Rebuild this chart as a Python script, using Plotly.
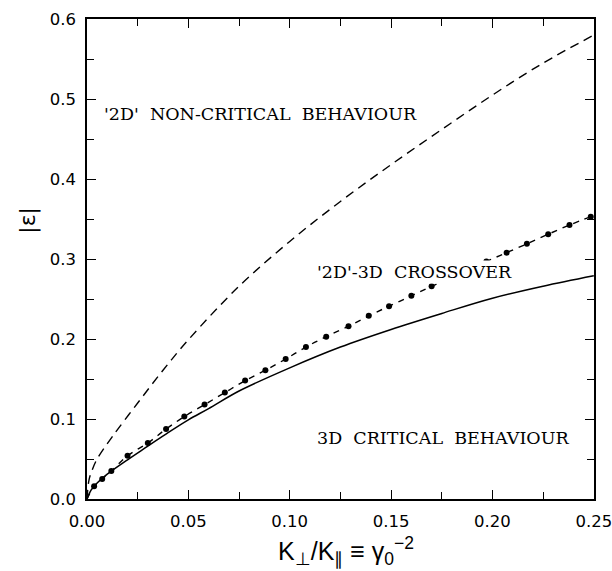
import plotly.graph_objects as go

# --- data ---
upper_x = [0, 0.001, 0.0025, 0.005, 0.0125, 0.025, 0.0375, 0.05, 0.075, 0.1,
           0.125, 0.15, 0.175, 0.2, 0.225, 0.25]
upper_y = [0, 0.024, 0.036, 0.050, 0.078, 0.120, 0.161, 0.199, 0.266, 0.322,
           0.372, 0.418, 0.462, 0.505, 0.545, 0.580]

solid_x = [0, 0.002, 0.005, 0.01, 0.02, 0.03, 0.04, 0.05, 0.06, 0.075, 0.1,
           0.125, 0.15, 0.175, 0.2, 0.225, 0.25]
solid_y = [0, 0.011, 0.020, 0.031, 0.049, 0.066, 0.083, 0.099, 0.113, 0.135,
           0.164, 0.190, 0.212, 0.232, 0.251, 0.266, 0.279]

dots_x = [0.0035, 0.0075, 0.012, 0.02, 0.03, 0.039, 0.048, 0.058, 0.068, 0.078,
          0.088, 0.098, 0.108, 0.118, 0.129, 0.139, 0.149, 0.16, 0.17, 0.18,
          0.188, 0.197, 0.207, 0.217, 0.2275, 0.238, 0.2485]
dots_y = [0.016, 0.025, 0.035, 0.054, 0.070, 0.0875, 0.103, 0.118, 0.133, 0.148,
          0.161, 0.175, 0.190, 0.203, 0.216, 0.229, 0.241, 0.254, 0.266, 0.277,
          0.287, 0.297, 0.308, 0.319, 0.331, 0.3425, 0.353]

x_ticks = [0.00, 0.05, 0.10, 0.15, 0.20, 0.25]
x_labels = ["0.00", "0.05", "0.10", "0.15", "0.20", "0.25"]
y_ticks = [0.0, 0.1, 0.2, 0.3, 0.4, 0.5, 0.6]
y_labels = ["0.0", "0.1", "0.2", "0.3", "0.4", "0.5", "0.6"]

X_RANGE = [0, 0.2501]
Y_RANGE = [0, 0.6001]

fig = go.Figure()
fig.add_trace(go.Scatter(x=upper_x, y=upper_y, mode="lines", line_shape="spline",
                         line=dict(color="black", width=1.4, dash="9px,6px"),
                         showlegend=False))
fig.add_trace(go.Scatter(x=solid_x, y=solid_y, mode="lines", line_shape="spline",
                         line=dict(color="black", width=1.5), showlegend=False))
fig.add_trace(go.Scatter(x=[0] + dots_x, y=[0] + dots_y, mode="lines",
                         line_shape="spline",
                         line=dict(color="black", width=1.4, dash="6px,6px"),
                         showlegend=False))
fig.add_trace(go.Scatter(x=dots_x, y=dots_y, mode="markers",
                         marker=dict(color="black", size=6), cliponaxis=False,
                         showlegend=False))
# invisible trace to host the top/right tick axes
fig.add_trace(go.Scatter(x=[0], y=[0], xaxis="x2", yaxis="y2", mode="markers",
                         marker=dict(size=0.1, opacity=0), showlegend=False,
                         hoverinfo="skip"))

serif = dict(family="DejaVu Serif", size=17.5, color="black")
nb = "\u00a0"
fig.add_annotation(x=0.0075, y=0.481, xref="x", yref="y", xanchor="left",
                   yanchor="middle", showarrow=False, font=serif,
                   text="'2D'" + nb * 2 + "NON-CRITICAL" + nb * 2 + "BEHAVIOUR")
fig.add_annotation(x=0.1615, y=0.284, xref="x", yref="y", xanchor="center",
                   yanchor="middle", showarrow=False, font=serif,
                   bgcolor="white", borderpad=1,
                   text="'2D'-3D" + nb * 2 + "CROSSOVER")
fig.add_annotation(x=0.1755, y=0.076, xref="x", yref="y", xanchor="center",
                   yanchor="middle", showarrow=False, font=serif,
                   text="3D" + nb * 2 + "CRITICAL" + nb * 2 + "BEHAVIOUR")

# axis titles
fig.add_annotation(x=0.51, y=-0.108, xref="paper", yref="paper",
                   xanchor="center", yanchor="middle", showarrow=False,
                   font=dict(family="Liberation Sans", size=25, color="black"),
                   text="K<sub>⊥</sub>/K<sub>∥</sub> ≡ γ<sub>0</sub><sup>−2</sup>")
fig.add_annotation(x=-0.118, y=0.58, xref="paper", yref="paper",
                   xanchor="center", yanchor="middle", showarrow=False,
                   textangle=-90,
                   font=dict(family="DejaVu Sans", size=22, color="black"),
                   text="|ε|")

tick_common = dict(showgrid=False, zeroline=False, showline=True,
                   linecolor="black", linewidth=1.6, automargin=False,
                   ticks="inside", ticklen=9, tickwidth=1.4, tickcolor="black",
                   tickfont=dict(family="DejaVu Sans", size=16.5, color="black"))
x_minor = dict(dtick=0.025, ticklen=7, ticks="inside", tickcolor="black",
               tickwidth=1.4)
y_minor = dict(dtick=0.05, ticklen=7, ticks="inside", tickcolor="black",
               tickwidth=1.4)

fig.update_layout(
    width=612, height=571,
    margin=dict(l=87, r=18, t=19, b=72, autoexpand=False),
    plot_bgcolor="white", paper_bgcolor="white",
    xaxis=dict(range=X_RANGE, tickvals=x_ticks, ticktext=x_labels,
               minor=x_minor, ticklabelstandoff=6, ticklabeloverflow="allow",
               **tick_common),
    yaxis=dict(range=Y_RANGE, tickvals=y_ticks, ticktext=y_labels,
               minor=y_minor, ticklabelstandoff=6, ticklabeloverflow="allow",
               **tick_common),
    xaxis2=dict(range=X_RANGE, overlaying="x", side="top", anchor="y2",
                tickvals=x_ticks, showticklabels=False, minor=x_minor,
                **tick_common),
    yaxis2=dict(range=Y_RANGE, overlaying="y", side="right", anchor="x2",
                tickvals=y_ticks, showticklabels=False, minor=y_minor,
                **tick_common),
)

fig.write_html("out.html")
